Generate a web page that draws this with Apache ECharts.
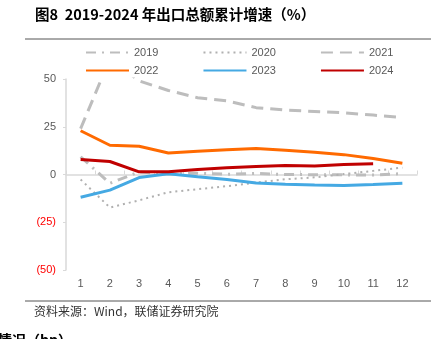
<!DOCTYPE html>
<html>
<head>
<meta charset="utf-8">
<script src="https://cdn.jsdelivr.net/npm/echarts@6/dist/echarts.min.js"></script>
<style>
  html, body { margin: 0; padding: 0; background: #fff; }
  #chart { width: 443px; height: 339px; }
</style>
</head>
<body>
<div id="chart"></div>
<script>
// Cumulative export growth by month, %
var months = ['1', '2', '3', '4', '5', '6', '7', '8', '9', '10', '11', '12'];
var y2019 = [9.3, -4.6, 1.4, 0.2, 0.7, 0.1, 0.6, 0.0, -0.1, -0.2, -0.3, 0.5];
var y2020 = [-2.6, -17.3, -13.5, -9.3, -7.7, -6.1, -4.2, -2.5, -1.5, 0.2, 1.9, 3.6];
var y2021 = [24.0, 60.6, 49.0, 44.0, 40.2, 38.6, 35.0, 33.7, 33.0, 32.3, 31.1, 29.9];
var y2022 = [22.9, 15.3, 14.8, 11.3, 12.2, 12.9, 13.6, 12.7, 11.7, 10.4, 8.4, 5.9];
var y2023 = [-11.9, -8.2, -1.6, 0.4, -1.2, -2.6, -4.4, -5.1, -5.5, -5.8, -5.3, -4.6];
var y2024 = [7.9, 6.8, 1.4, 1.4, 2.6, 3.5, 4.2, 4.7, 4.5, 5.2, 5.6];
var yTicks = { min: -50, max: 50, step: 25 };

var grey = '#BDBDBD';
var font = '"Liberation Sans", Arial, sans-serif';
var cjk = '"Noto Sans CJK SC", sans-serif';

function lineSeries(name, data, color, width, type, z) {
  return {
    name: name, type: 'line', data: data, xAxisIndex: 0,
    symbol: 'none', smooth: false, z: z,
    lineStyle: { color: color, width: width, type: type, cap: 'butt' },
    itemStyle: { color: color }
  };
}

var chart = echarts.init(document.getElementById('chart'), null, { renderer: 'canvas' });
var legendText = { color: '#595959', fontSize: 11, fontFamily: font };
var legendBase = { left: 85, itemWidth: 43, itemHeight: 12, itemGap: 44,
  textStyle: legendText, padding: 0, itemStyle: { opacity: 0 } };

chart.setOption({
  animation: false,
  backgroundColor: '#fff',
  grid: { left: 66, right: 26, top: 79, bottom: 69, containLabel: false },
  legend: [
    Object.assign({ data: ['2019', '2020', '2021'], top: 47 }, legendBase),
    Object.assign({ data: ['2022', '2023', '2024'], top: 65 }, legendBase)
  ],
  xAxis: [
    { type: 'category', data: months, boundaryGap: true,
      axisLine: { show: true, onZero: true, lineStyle: { color: '#D9D9D9', width: 1.5 } },
      axisTick: { show: true, inside: true, length: 4, lineStyle: { color: '#D9D9D9' } },
      axisLabel: { show: false } },
    { type: 'category', data: months, boundaryGap: true, position: 'bottom',
      axisLine: { show: false, onZero: false }, axisTick: { show: false },
      axisLabel: { color: '#595959', fontSize: 11, fontFamily: font, margin: 8 } }
  ],
  yAxis: {
    type: 'value', min: yTicks.min, max: yTicks.max, interval: yTicks.step,
    splitLine: { show: false },
    axisLine: { show: true, lineStyle: { color: '#D9D9D9', width: 1.5 } },
    axisTick: { show: true, length: 3, lineStyle: { color: '#D9D9D9' } },
    axisLabel: {
      fontSize: 11, fontFamily: font, margin: 10,
      color: function (v) { return Number(v) < 0 ? '#FF0000' : '#595959'; },
      formatter: function (v) { return v < 0 ? '(' + (-v) + ')' : String(v); }
    }
  },
  series: [
    lineSeries('2019', y2019, grey, 3, [10, 6, 2, 6], 2),
    lineSeries('2020', y2020, '#B0B0B0', 2, [2, 4], 2),
    lineSeries('2021', y2021, grey, 3, [12, 7], 2),
    lineSeries('2022', y2022, '#FF6A00', 3, 'solid', 3),
    lineSeries('2023', y2023, '#45A9E3', 3, 'solid', 3),
    lineSeries('2024', y2024, '#C00000', 3, 'solid', 4)
  ],
  graphic: [
    { type: 'text', left: 35, top: 7,
      style: { text: '图8  2019-2024 年出口总额累计增速（%）', font: 'bold 14.5px ' + cjk, fill: '#000' } },
    { type: 'line', shape: { x1: 25, y1: 39, x2: 431, y2: 39 },
      style: { stroke: '#555', lineWidth: 1 } },
    { type: 'line', shape: { x1: 25, y1: 301, x2: 431, y2: 301 },
      style: { stroke: '#555', lineWidth: 1 } },
    { type: 'text', left: 34, top: 305,
      style: { text: '资料来源：Wind，联储证券研究院', font: '12px ' + cjk, fill: '#333' } },
    { type: 'text', left: -2, top: 333,
      style: { text: '情况（bp）', font: 'bold 14px ' + cjk, fill: '#000' } }
  ]
});
</script>
</body>
</html>
